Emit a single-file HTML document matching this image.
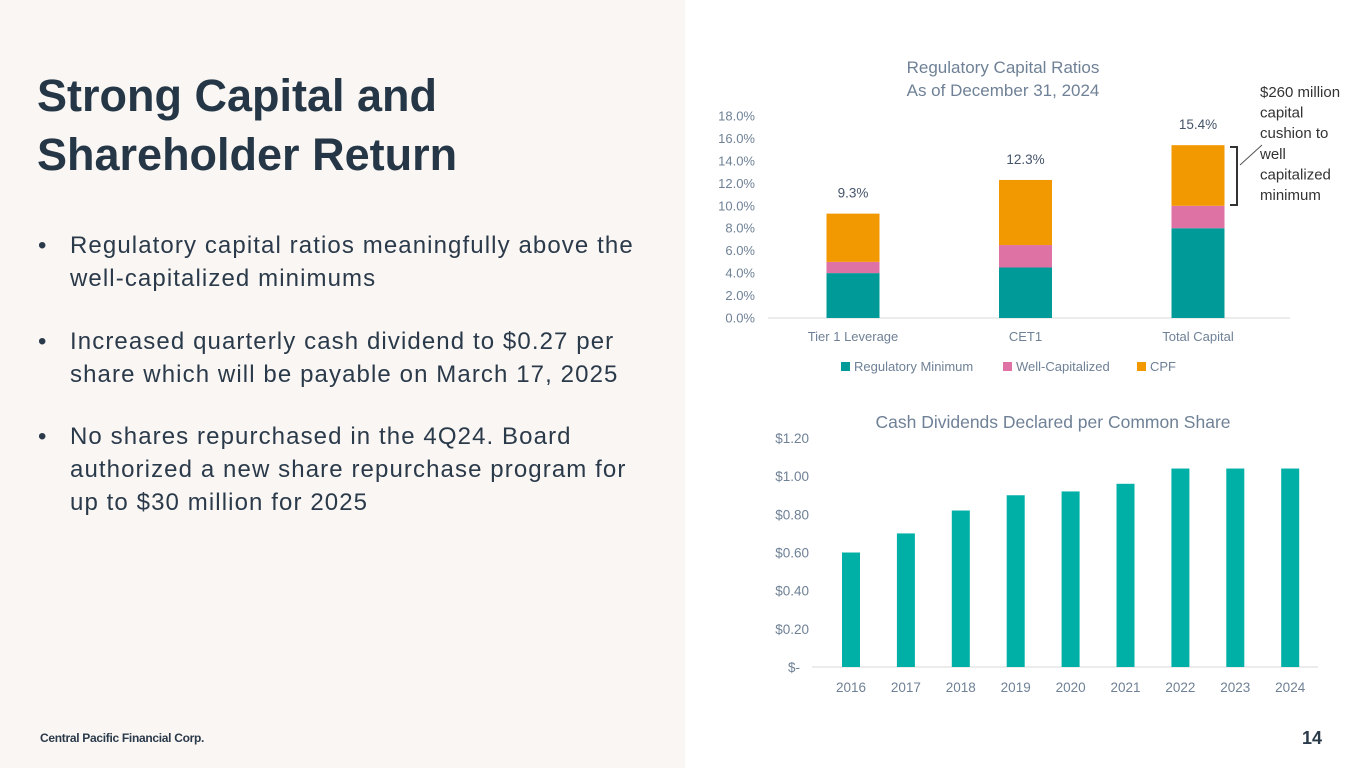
<!DOCTYPE html>
<html><head><meta charset="utf-8"><style>
body{margin:0;width:1365px;height:768px;position:relative;overflow:hidden;background:#fff;font-family:"Liberation Sans",sans-serif;}
#left{position:absolute;left:0;top:0;width:685px;height:768px;background:#f9f6f3;}
h1{position:absolute;left:37px;top:66px;margin:0;font-size:45px;line-height:59px;font-weight:bold;color:#253746;letter-spacing:0px;white-space:nowrap;}
.b{position:absolute;left:38px;width:640px;font-size:24px;line-height:33px;color:#2b3a4a;padding-left:32px;box-sizing:border-box;letter-spacing:1.1px;white-space:nowrap;}
.b::before{content:"•";position:absolute;left:0;top:0;}
#foot{position:absolute;left:40px;top:731px;font-size:12px;font-weight:bold;color:#2b3a4a;letter-spacing:-0.3px;}
#pg{position:absolute;left:1302px;top:728px;font-size:18px;font-weight:bold;color:#2b3a4a;}
svg{position:absolute;left:0;top:0;}
svg text{font-family:"Liberation Sans",sans-serif;}
</style></head><body>
<div id="left"></div>
<h1>Strong Capital and<br>Shareholder Return</h1>
<div class="b" style="top:229px">Regulatory capital ratios meaningfully above the<br>well-capitalized minimums</div>
<div class="b" style="top:325px">Increased quarterly cash dividend to $0.27 per<br>share which will be payable on March 17, 2025</div>
<div class="b" style="top:420px">No shares repurchased in the 4Q24. Board<br>authorized a new share repurchase program for<br>up to $30 million for 2025</div>
<div id="foot">Central Pacific Financial Corp.</div>
<div id="pg">14</div>
<svg id="chart" width="1365" height="768"></svg>
<script>
const capCats=["Tier 1 Leverage","CET1","Total Capital"];
const regMin=[4.0,4.5,8.0];
const wellCap=[1.0,2.0,2.0];
const cpf=[4.3,5.8,5.4];
const totalLabels=["9.3%","12.3%","15.4%"];
const capTicks=[0,2,4,6,8,10,12,14,16,18];
const divYears=["2016","2017","2018","2019","2020","2021","2022","2023","2024"];
const divVals=[0.60,0.70,0.82,0.90,0.92,0.96,1.04,1.04,1.04];
const divTicks=[0,0.2,0.4,0.6,0.8,1.0,1.2];
const divTickLabels=["$-","$0.20","$0.40","$0.60","$0.80","$1.00","$1.20"];

const svg=document.getElementById('chart');
const NS="http://www.w3.org/2000/svg";
function mk(tag,attrs,name,txt){const e=document.createElementNS(NS,tag);for(const k in attrs)e.setAttribute(k,attrs[k]);


if(txt!==undefined)e.textContent=txt;svg.appendChild(e);return e;}
const axisC="#6f8196";
const y1=v=>318-v*(202/18);
const x1=i=>853+i*172.5;
mk('text',{x:1003,y:73,'text-anchor':'middle','font-size':17,fill:'#6f8196'},'capital-chart-title','Regulatory Capital Ratios');
mk('text',{x:1003,y:96,'text-anchor':'middle','font-size':17,fill:'#6f8196'},'capital-chart-subtitle','As of December 31, 2024');
capTicks.forEach(t=>{mk('text',{x:755,y:y1(t)+4.5,'text-anchor':'end','font-size':13,fill:axisC},'y-tick-label',t.toFixed(1)+'%');});
mk('line',{x1:768,x2:1290,y1:y1(0),y2:y1(0),stroke:'#d9d9d9','stroke-width':1},'x-axis-line');
capCats.forEach((c,i)=>{
 const w=53,x=x1(i)-w/2;
 let b=0;
 [[regMin[i],'#009b98','bar-regulatory-minimum'],[wellCap[i],'#de72a4','bar-well-capitalized'],[cpf[i],'#f29800','bar-cpf']].forEach(([v,col,n])=>{
  mk('rect',{x:x,y:y1(b+v),width:w,height:y1(b)-y1(b+v),fill:col},n);b+=v;});
 mk('text',{x:x1(i),y:y1(b)-16,'text-anchor':'middle','font-size':13.5,fill:'#44546a'},'total-label',totalLabels[i]);
 mk('text',{x:x1(i),y:341,'text-anchor':'middle','font-size':13,fill:axisC},'x-tick-label',c);
});
[[841,'#009b98','Regulatory Minimum'],[1003,'#de72a4','Well-Capitalized'],[1137,'#f29800','CPF']].forEach(([x,c,t])=>{
 mk('rect',{x:x,y:362,width:9,height:9,fill:c},'legend-swatch');
 mk('text',{x:x+13,y:371,'font-size':13,fill:axisC},'legend-entry',t);});
mk('path',{d:'M1230 147 H1237 V205 H1230',fill:'none',stroke:'#333','stroke-width':2},'cushion-bracket');
mk('line',{x1:1240,y1:165,x2:1262,y2:145,stroke:'#555','stroke-width':1},'annotation-leader');
["$260 million","capital","cushion to","well","capitalized","minimum"].forEach((t,i)=>mk('text',{x:1260,y:97+i*20.6,'font-size':15,fill:'#333'},'annotation-text',t));
const y2=v=>667-v*(229/1.2);
const x2=i=>851+i*54.9;
mk('text',{x:1053,y:428,'text-anchor':'middle','font-size':17.5,fill:'#6f8196'},'dividend-chart-title','Cash Dividends Declared per Common Share');
divTicks.forEach((t,i)=>mk('text',{x:i==0?800:809,y:y2(t)+5,'text-anchor':'end','font-size':13.5,fill:axisC},'y-tick-label',divTickLabels[i]));
mk('line',{x1:812,x2:1318,y1:y2(0),y2:y2(0),stroke:'#d9d9d9','stroke-width':1},'x-axis-line');
divVals.forEach((v,i)=>{
 mk('rect',{x:x2(i)-9,y:y2(v),width:18,height:y2(0)-y2(v),fill:'#00b0a7'},'bar-'+divYears[i]);
 mk('text',{x:x2(i),y:692,'text-anchor':'middle','font-size':13.5,fill:axisC},'x-tick-label',divYears[i]);
});
</script>
</body></html>
